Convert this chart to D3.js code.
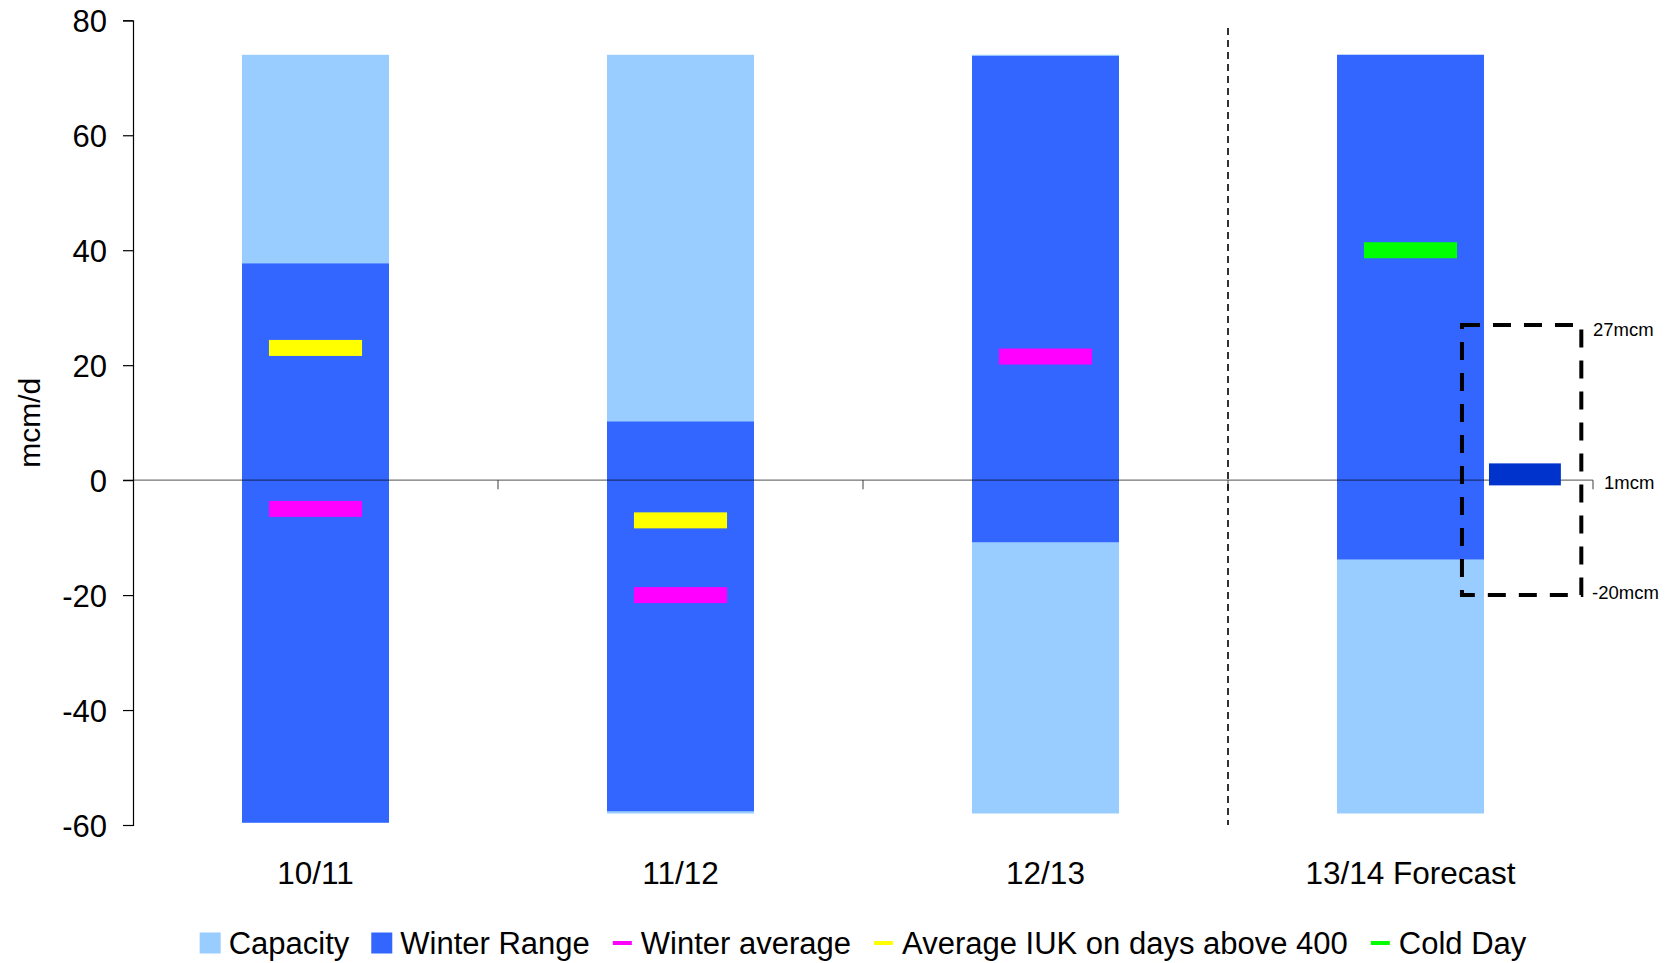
<!DOCTYPE html>
<html>
<head>
<meta charset="utf-8">
<script src="https://cdn.jsdelivr.net/npm/d3@7"></script>
<style>
  html, body { margin: 0; padding: 0; background: #fff; }
  svg { display: block; }
  text { font-family: "Liberation Sans", Arial, Helvetica, sans-serif; fill: #000; }
</style>
</head>
<body>
<svg id="chart" width="1671" height="963"></svg>
<script>
// Winter flow ranges per gas year (mcm/d)
const categories    = ["10/11", "11/12", "12/13", "13/14 Forecast"];
const capacityMin   = [-59.6, -58, -58, -58];
const capacityMax   = [74, 74, 74, 74];
const rangeMin      = [-59.6, -57.6, -10.8, -13.8];
const rangeMax      = [37.7, 10.2, 73.8, 74];
const winterAverage = [-5, -20, 21.5, null];
const avgIUK400     = [23, -7, null, null];
const coldDay       = [null, null, null, 40];

// Forecast band for 13/14
const forecastCentral = 1;
const forecastHigh = 27;
const forecastLow = -20;
const forecastLabels = ["27mcm", "1mcm", "-20mcm"];

const yTicks = [-60, -40, -20, 0, 20, 40, 60, 80];

const legendItems = [
  { name: "Capacity", color: "#99CCFF", kind: "box" },
  { name: "Winter Range", color: "#3366FF", kind: "box" },
  { name: "Winter average", color: "#FF00FF", kind: "line" },
  { name: "Average IUK on days above 400", color: "#FFFF00", kind: "line" },
  { name: "Cold Day", color: "#00FF00", kind: "line" }
];

const svg = d3.select("#chart");
const plot = { left: 133, right: 1593, top: 20.3, bottom: 825 };

const x = d3.scaleBand().domain(categories).range([plot.left, plot.right]).paddingInner(0).paddingOuter(0);
const y = d3.scaleLinear().domain([-60, 80]).range([plot.bottom, plot.top]);

const barW = x.bandwidth() * 0.4027;
const markW = x.bandwidth() * 0.255;
const markH = 16;
const cx = c => x(c) + x.bandwidth() / 2;

const idx = d3.range(categories.length);

// Capacity bars
svg.append("g").selectAll("rect").data(idx).join("rect")
  .attr("x", i => cx(categories[i]) - barW / 2)
  .attr("width", barW)
  .attr("y", i => y(capacityMax[i]))
  .attr("height", i => y(capacityMin[i]) - y(capacityMax[i]))
  .attr("fill", "#99CCFF");

// Winter range bars
svg.append("g").selectAll("rect").data(idx).join("rect")
  .attr("x", i => cx(categories[i]) - barW / 2)
  .attr("width", barW)
  .attr("y", i => y(rangeMax[i]))
  .attr("height", i => y(rangeMin[i]) - y(rangeMax[i]))
  .attr("fill", "#3366FF");

// Horizontal markers
function markers(values, color) {
  svg.append("g").selectAll("rect")
    .data(idx.filter(i => values[i] != null)).join("rect")
    .attr("x", i => cx(categories[i]) - markW / 2)
    .attr("width", markW)
    .attr("y", i => y(values[i]) - markH / 2)
    .attr("height", markH)
    .attr("fill", color);
}
markers(winterAverage, "#FF00FF");
markers(avgIUK400, "#FFFF00");
markers(coldDay, "#00FF00");

// Zero line with category boundary ticks
const zeroY = y(0);
const xAxis = svg.append("g").attr("stroke", "#000").attr("stroke-opacity", 0.55).attr("stroke-width", 1.4);
xAxis.append("line").attr("x1", plot.left - 10).attr("x2", plot.right).attr("y1", zeroY).attr("y2", zeroY);
const boundaries = categories.slice(1).map(c => x(c)).concat([plot.right]);
xAxis.selectAll("line.tick").data(boundaries).join("line").attr("class", "tick")
  .attr("x1", d => d).attr("x2", d => d).attr("y1", zeroY).attr("y2", zeroY + 9);

// Forecast annotation on the last category
const fc = categories[3];
const fb = x(fc), bw = x.bandwidth();
svg.append("rect")
  .attr("x", fb + bw * 0.715)
  .attr("width", bw * 0.197)
  .attr("y", y(forecastCentral) - 11)
  .attr("height", 22)
  .attr("fill", "#0033CC");

svg.append("rect")
  .attr("x", fb + bw * 0.641)
  .attr("width", bw * 0.327)
  .attr("y", y(forecastHigh))
  .attr("height", y(forecastLow) - y(forecastHigh))
  .attr("fill", "none")
  .attr("stroke", "#000")
  .attr("stroke-width", 4)
  .attr("stroke-dasharray", "18,13");

const fLabelG = svg.append("g").attr("font-size", "18.5px");
fLabelG.append("text").attr("x", plot.right).attr("y", y(forecastHigh) + 11).text(forecastLabels[0]);
fLabelG.append("text").attr("x", plot.right + 11).attr("y", y(forecastCentral) + 15).text(forecastLabels[1]);
fLabelG.append("text").attr("x", plot.right - 1).attr("y", y(forecastLow) + 4).text(forecastLabels[2]);

// Separator between actuals and forecast
svg.append("line")
  .attr("x1", x(fc)).attr("x2", x(fc))
  .attr("y1", 28).attr("y2", plot.bottom)
  .attr("stroke", "#000").attr("stroke-width", 1.6)
  .attr("stroke-dasharray", "7,5");

// Y axis
const yAxis = svg.append("g")
  .attr("transform", `translate(${plot.left},0)`)
  .call(d3.axisLeft(y).tickValues(yTicks).tickSize(10).tickPadding(16).tickFormat(d => String(d)));
yAxis.select(".domain").attr("stroke", "#000").attr("stroke-width", 1.2);
yAxis.selectAll(".tick line").attr("stroke", "#000").attr("stroke-width", 1.2);
yAxis.selectAll(".tick text").attr("font-size", "31px").attr("font-family", "\"Liberation Sans\", Arial, sans-serif").attr("fill", "#000").attr("dy", "0.36em");

// Y axis title
svg.append("text")
  .attr("transform", "translate(40,422.7) rotate(-90)")
  .attr("text-anchor", "middle")
  .attr("font-size", "30px")
  .text("mcm/d");

// Category labels
svg.append("g").selectAll("text").data(categories).join("text")
  .attr("x", d => cx(d))
  .attr("y", 884)
  .attr("text-anchor", "middle")
  .attr("font-size", "31.5px")
  .text(d => d);

// Legend
const legend = svg.append("g").attr("font-size", "31px");
let lx = 0;
const slot = 21, inner = 8, between = 22;
legendItems.forEach(item => {
  const g = legend.append("g").attr("transform", `translate(${lx},0)`);
  if (item.kind === "box") {
    g.append("rect").attr("x", 0).attr("y", -10.5).attr("width", slot).attr("height", slot).attr("fill", item.color);
  } else {
    g.append("rect").attr("x", 1).attr("y", -2).attr("width", slot - 2).attr("height", 4).attr("fill", item.color);
  }
  const t = g.append("text").attr("x", slot + inner).attr("y", 10.5).text(item.name);
  lx += slot + inner + t.node().getComputedTextLength() + between;
});
const legendW = lx - between;
legend.attr("transform", `translate(${(plot.left + plot.right) / 2 - legendW / 2},943)`);
</script>
</body>
</html>
